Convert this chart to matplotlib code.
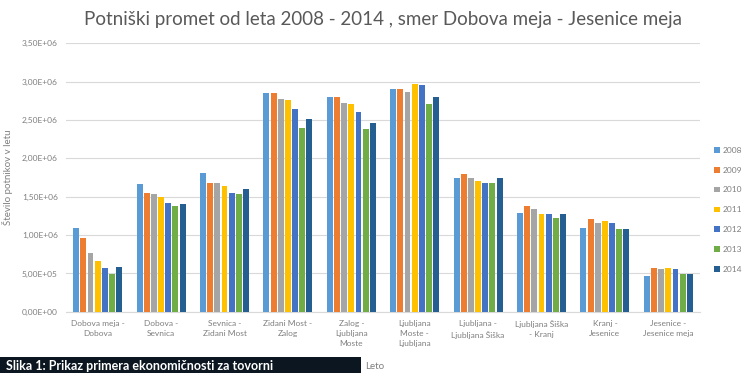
import numpy as np
import matplotlib
matplotlib.use("Agg")
import matplotlib.pyplot as plt
from matplotlib.patches import Rectangle
from matplotlib.ticker import FuncFormatter

plt.rcParams['font.family'] = ['Lato', 'DejaVu Sans']

sections = ["Dobova meja -\nDobova", "Dobova -\nSevnica", "Sevnica -\nZidani Most",
            "Zidani Most -\nZalog", "Zalog -\nLjubljana\nMoste", "Ljubljana\nMoste -\nLjubljana",
            "Ljubljana -\nLjubljana Šiška", "Ljubljana Šiška\n- Kranj", "Kranj -\nJesenice",
            "Jesenice -\nJesenice meja"]
years = ["2008", "2009", "2010", "2011", "2012", "2013", "2014"]

# passengers per section, one list per year
p2008 = [1.097e6, 1.663e6, 1.815e6, 2.846e6, 2.799e6, 2.907e6, 1.749e6, 1.292e6, 1.097e6, 0.466e6]
p2009 = [0.958e6, 1.554e6, 1.684e6, 2.846e6, 2.799e6, 2.907e6, 1.794e6, 1.380e6, 1.206e6, 0.574e6]
p2010 = [0.770e6, 1.533e6, 1.684e6, 2.777e6, 2.728e6, 2.864e6, 1.749e6, 1.337e6, 1.162e6, 0.553e6]
p2011 = [0.662e6, 1.501e6, 1.641e6, 2.755e6, 2.711e6, 2.973e6, 1.706e6, 1.272e6, 1.184e6, 0.574e6]
p2012 = [0.567e6, 1.423e6, 1.554e6, 2.646e6, 2.603e6, 2.950e6, 1.684e6, 1.272e6, 1.162e6, 0.553e6]
p2013 = [0.488e6, 1.380e6, 1.533e6, 2.402e6, 2.381e6, 2.711e6, 1.684e6, 1.227e6, 1.076e6, 0.488e6]
p2014 = [0.587e6, 1.402e6, 1.598e6, 2.512e6, 2.467e6, 2.799e6, 1.749e6, 1.272e6, 1.076e6, 0.488e6]
series = [p2008, p2009, p2010, p2011, p2012, p2013, p2014]

colors = ['#5B9BD5', '#ED7D31', '#A5A5A5', '#FFC000', '#4472C4', '#70AD47', '#255E91']

fig = plt.figure(figsize=(7.45, 3.73), dpi=100)
ax = fig.add_axes([0.0886, 0.164, 0.851, 0.72])

x = np.arange(len(sections))
step = 0.113
for i, (vals, col) in enumerate(zip(series, colors)):
    ax.bar(x + (i - 3) * step, vals, width=step * 0.82, color=col, label=years[i], zorder=3)

ax.set_xlim(-0.5, len(sections) - 0.5)
ax.set_ylim(0, 3.5e6)
ax.set_yticks(np.arange(0, 3.51e6, 5e5))
ax.yaxis.set_major_formatter(FuncFormatter(lambda v, p: ("%.2E" % v).replace('.', ',')))
ax.grid(axis='y', color='#d9d9d9', linewidth=0.8, zorder=0)
for s in ['top', 'right', 'left']:
    ax.spines[s].set_visible(False)
ax.spines['bottom'].set_color('#d9d9d9')
ax.tick_params(length=0, labelsize=6, colors='#7f7f7f', pad=6)
ax.set_xticks(x)
ax.set_xticklabels(sections, linespacing=1.5)

ax.set_title("Potniški promet od leta 2008 - 2014 , smer Dobova meja - Jesenice meja",
             fontsize=13.5, color='#595959', pad=13)
ax.set_ylabel("Število potnikov v letu", fontsize=7, color='#7f7f7f', labelpad=6)
fig.text(0.503, 0.005, "Leto", fontsize=7, color='#7f7f7f', ha='center', va='bottom')

ax.legend(loc='upper left', bbox_to_anchor=(1.022, 0.615), frameon=False, fontsize=6,
          labelcolor='#7f7f7f', handlelength=0.7, handleheight=0.7, labelspacing=1.55,
          handletextpad=0.4, borderaxespad=0, borderpad=0)

# caption strip from the surrounding document
fig.patches.append(Rectangle((0, 0), 0.485, 0.042, transform=fig.transFigure,
                             facecolor='#0b1620', edgecolor='none', zorder=5))
fig.text(0.008, 0.004, "Slika 1: Prikaz primera ekonomičnosti za tovorni", fontsize=9,
         fontweight='bold', color='white', ha='left', va='bottom', zorder=6)

fig.savefig("out.png", dpi=100)
